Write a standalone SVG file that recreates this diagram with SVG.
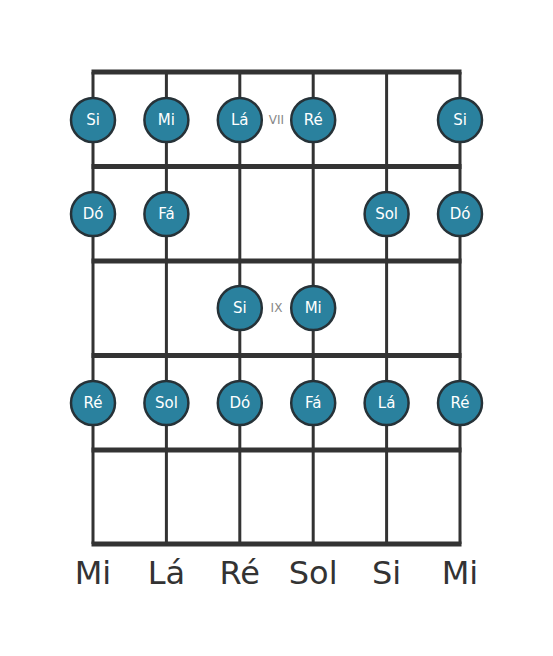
<svg xmlns="http://www.w3.org/2000/svg" width="553" height="656" viewBox="0 0 553 656">
<style>
.str{stroke:#333;stroke-width:3}
.fret{stroke:#333;stroke-width:5}
.note circle{fill:#2a819e;stroke:#263238;stroke-width:2.5}
.note text{fill:#fff;font-family:"DejaVu Sans",sans-serif;font-size:15px;text-anchor:middle;dominant-baseline:central}
.fn{fill:#888;font-family:"DejaVu Sans",sans-serif;font-size:12px;text-anchor:middle;dominant-baseline:central}
.lbl{fill:#333;font-family:"DejaVu Sans",sans-serif;font-size:32px;text-anchor:middle}
</style>
<rect width="553" height="656" fill="#fff"/>
<g id="connectors">
<line class="str" x1="93" y1="72" x2="93" y2="544"/>
<line class="str" x1="166.4" y1="72" x2="166.4" y2="544"/>
<line class="str" x1="239.8" y1="72" x2="239.8" y2="544"/>
<line class="str" x1="313.2" y1="72" x2="313.2" y2="544"/>
<line class="str" x1="386.6" y1="72" x2="386.6" y2="544"/>
<line class="str" x1="460" y1="72" x2="460" y2="544"/>
<line class="fret" x1="91.5" y1="72" x2="461.5" y2="72"/>
<line class="fret" x1="91.5" y1="166.5" x2="461.5" y2="166.5"/>
<line class="fret" x1="91.5" y1="261" x2="461.5" y2="261"/>
<line class="fret" x1="91.5" y1="355.5" x2="461.5" y2="355.5"/>
<line class="fret" x1="91.5" y1="450" x2="461.5" y2="450"/>
<line class="fret" x1="91.5" y1="544" x2="461.5" y2="544"/>
</g>
<text class="fn" x="276.5" y="120">VII</text>
<text class="fn" x="276.5" y="308">IX</text>
<g id="n1" class="note"><circle cx="93" cy="120" r="22"/><text x="93" y="120">Si</text></g>
<g id="n2" class="note"><circle cx="166.4" cy="120" r="22"/><text x="166.4" y="120">Mi</text></g>
<g id="n3" class="note"><circle cx="239.8" cy="120" r="22"/><text x="239.8" y="120">Lá</text></g>
<g id="n4" class="note"><circle cx="313.2" cy="120" r="22"/><text x="313.2" y="120">Ré</text></g>
<g id="n5" class="note"><circle cx="460" cy="120" r="22"/><text x="460" y="120">Si</text></g>
<g id="n6" class="note"><circle cx="93" cy="214" r="22"/><text x="93" y="214">Dó</text></g>
<g id="n7" class="note"><circle cx="166.4" cy="214" r="22"/><text x="166.4" y="214">Fá</text></g>
<g id="n8" class="note"><circle cx="386.6" cy="214" r="22"/><text x="386.6" y="214">Sol</text></g>
<g id="n9" class="note"><circle cx="460" cy="214" r="22"/><text x="460" y="214">Dó</text></g>
<g id="n10" class="note"><circle cx="239.8" cy="308" r="22"/><text x="239.8" y="308">Si</text></g>
<g id="n11" class="note"><circle cx="313.2" cy="308" r="22"/><text x="313.2" y="308">Mi</text></g>
<g id="n12" class="note"><circle cx="93" cy="403" r="22"/><text x="93" y="403">Ré</text></g>
<g id="n13" class="note"><circle cx="166.4" cy="403" r="22"/><text x="166.4" y="403">Sol</text></g>
<g id="n14" class="note"><circle cx="239.8" cy="403" r="22"/><text x="239.8" y="403">Dó</text></g>
<g id="n15" class="note"><circle cx="313.2" cy="403" r="22"/><text x="313.2" y="403">Fá</text></g>
<g id="n16" class="note"><circle cx="386.6" cy="403" r="22"/><text x="386.6" y="403">Lá</text></g>
<g id="n17" class="note"><circle cx="460" cy="403" r="22"/><text x="460" y="403">Ré</text></g>
<g id="labels">
<text class="lbl" x="93" y="584">Mi</text>
<text class="lbl" x="166.4" y="584">Lá</text>
<text class="lbl" x="239.8" y="584">Ré</text>
<text class="lbl" x="313.2" y="584">Sol</text>
<text class="lbl" x="386.6" y="584">Si</text>
<text class="lbl" x="460" y="584">Mi</text>
</g>
</svg>
